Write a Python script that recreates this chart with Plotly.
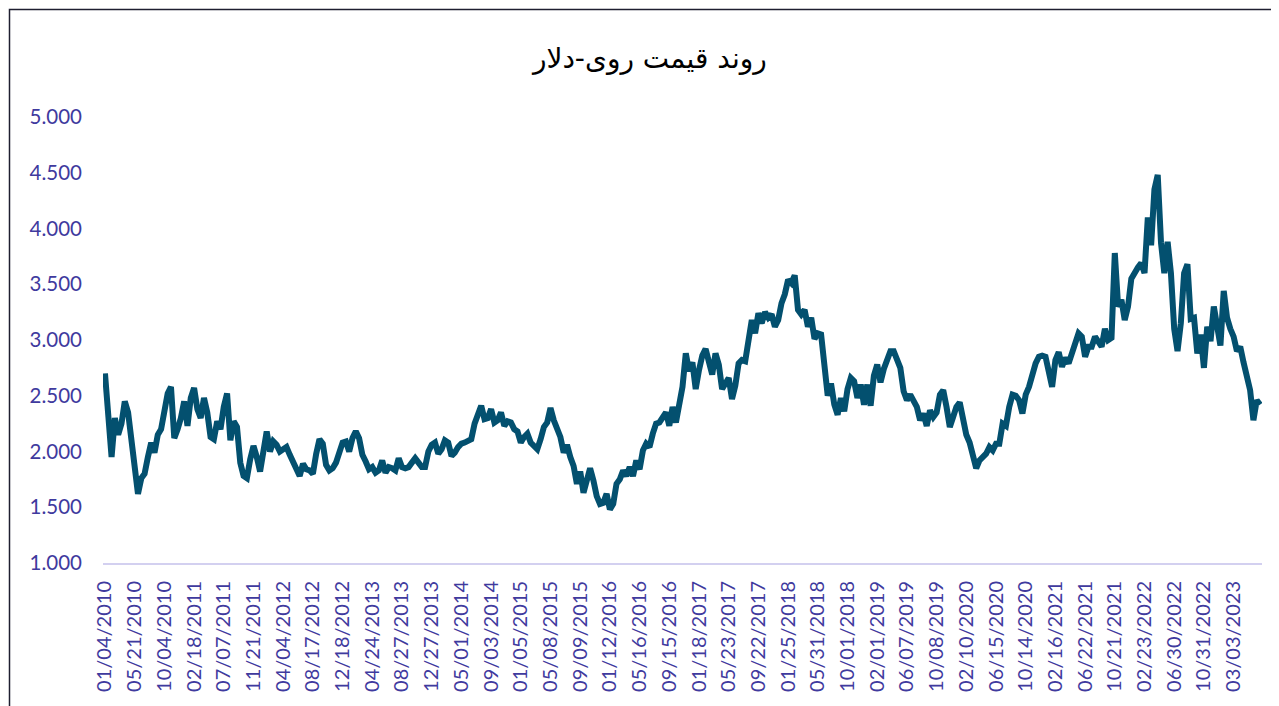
import plotly.graph_objects as go

title_text = "روند قیمت روی-دلار"

# zinc price readings (USD/t), one reading per ~two weeks of trading, left to right
prices = [
    2700, 2250, 1950, 2300, 2150, 2250, 2450, 2350, 2100, 1870,
    1620, 1760, 1800, 1950, 2080, 1990, 2150, 2200, 2330, 2520,
    2580, 2120, 2200, 2300, 2450, 2230, 2480, 2570, 2380, 2300,
    2480, 2350, 2130, 2110, 2270, 2200, 2400, 2520, 2100, 2270,
    2220, 1900, 1780, 1760, 1930, 2050, 1950, 1820, 2000, 2180,
    2000, 2090, 2060, 2000, 2020, 2040, 1970, 1900, 1860, 1780,
    1890, 1840, 1830, 1800, 1980, 2110, 2070, 1880, 1830, 1850,
    1900, 2000, 2080, 2090, 2000, 2120, 2180, 2120, 1970, 1910,
    1840, 1860, 1810, 1830, 1920, 1810, 1860, 1850, 1830, 1940,
    1860, 1850, 1860, 1900, 1940, 1900, 1860, 1860, 2000, 2060,
    2080, 1980, 2020, 2100, 2080, 1960, 1990, 2040, 2070, 2080,
    2100, 2110, 2250, 2330, 2410, 2290, 2300, 2380, 2260, 2280,
    2350, 2230, 2270, 2260, 2200, 2180, 2080, 2130, 2160, 2080,
    2040, 2020, 2110, 2220, 2260, 2390, 2280, 2190, 2130, 1990,
    2060, 1950, 1870, 1710, 1820, 1630, 1720, 1850, 1740, 1600,
    1530, 1540, 1620, 1480, 1530, 1710, 1750, 1830, 1780, 1860,
    1780, 1920, 1840, 2010, 2070, 2040, 2160, 2250, 2260, 2300,
    2350, 2230, 2400, 2260, 2450, 2580, 2880, 2720, 2800, 2560,
    2730, 2860, 2920, 2800, 2690, 2880, 2780, 2560, 2610, 2660,
    2470, 2590, 2790, 2820, 2810, 3000, 3180, 3060, 3240, 3150,
    3250, 3200, 3230, 3120, 3180, 3330, 3410, 3540, 3510, 3580,
    3270, 3230, 3270, 3120, 3200, 3010, 3060, 3050, 2740, 2500,
    2610, 2420, 2330, 2480, 2360, 2560, 2660, 2630, 2480, 2600,
    2420, 2600, 2410, 2680, 2780, 2620, 2740, 2830, 2900, 2900,
    2820, 2750, 2540, 2460, 2510, 2460, 2400, 2280, 2340, 2230,
    2370, 2310, 2350, 2510, 2550, 2400, 2220, 2310, 2400, 2440,
    2300, 2150, 2080, 1980, 1850, 1920, 1950, 1980, 2040, 2010,
    2070, 2070, 2250, 2230, 2400, 2510, 2500, 2460, 2340, 2510,
    2580, 2690, 2790, 2850, 2860, 2850, 2720, 2580, 2820, 2890,
    2760, 2840, 2790, 2880, 3000, 3060, 3030, 2850, 2940, 2940,
    3030, 2970, 2940, 3100, 3000, 3020, 3780, 3300, 3360, 3180,
    3300, 3550, 3610, 3650, 3690, 3600, 4100, 3850, 4350, 4480,
    3870, 3600, 3880, 3600, 3100, 2900, 3150, 3600, 3680, 3190,
    3200, 2880, 3050, 2750, 3120, 2990, 3300, 3100, 2950, 3440,
    3200, 3100, 3030, 2900, 2940, 2800, 2680, 2550, 2280, 2460,
    2420,
]

tick_labels = [
    "01/04/2010", "05/21/2010", "10/04/2010", "02/18/2011", "07/07/2011",
    "11/21/2011", "04/04/2012", "08/17/2012", "12/18/2012", "04/24/2013",
    "08/27/2013", "12/27/2013", "05/01/2014", "09/03/2014", "01/05/2015",
    "05/08/2015", "09/09/2015", "01/12/2016", "05/16/2016", "09/15/2016",
    "01/18/2017", "05/23/2017", "09/22/2017", "01/25/2018", "05/31/2018",
    "10/01/2018", "02/01/2019", "06/07/2019", "10/08/2019", "02/10/2020",
    "06/15/2020", "10/14/2020", "02/16/2021", "06/22/2021", "10/21/2021",
    "02/23/2022", "06/30/2022", "10/31/2022", "03/03/2023",
]

y_ticks = [1000, 1500, 2000, 2500, 3000, 3500, 4000, 4500, 5000]

samples_per_label = 9  # readings between two consecutive date labels

x_idx = list(range(len(prices)))
tick_pos = [k * samples_per_label for k in range(len(tick_labels))]

LINE_COLOR = "#03506F"
TEXT_COLOR = "#3F3A9E"
AXIS_COLOR = "#D3D0F0"

fig = go.Figure()
fig.add_trace(go.Scatter(
    x=x_idx, y=prices, mode="lines",
    line=dict(color=LINE_COLOR, width=6),
    hoverinfo="skip", showlegend=False,
))

# the page body adds an 8px offset, so the figure is 8px smaller than the window
W, H = 1271, 698
L, R, T, B = 95, 17, 109, 143

fig.update_layout(
    width=W, height=H,
    margin=dict(l=L, r=R, t=T, b=B, pad=0),
    paper_bgcolor="white", plot_bgcolor="white",
    separators=",.",
    title=dict(
        text=title_text, x=0.505, xref="container", xanchor="center",
        y=1 - 50 / H, yref="container", yanchor="middle",
        font=dict(family="DejaVu Sans", size=28, color="#000000"),
    ),
    xaxis=dict(
        range=[-0.6, len(prices) - 1 + 0.6],
        tickmode="array", tickvals=tick_pos, ticktext=tick_labels,
        tickangle=-90, ticks="", showgrid=False, zeroline=False,
        showline=True, linecolor=AXIS_COLOR, linewidth=2,
        tickfont=dict(family="Lato", size=20, color=TEXT_COLOR),
        ticklabelstandoff=8,
    ),
    yaxis=dict(
        range=[1000, 5000], tickmode="array", tickvals=y_ticks,
        tickformat=",d", ticks="", showgrid=False, zeroline=False, showline=False,
        tickfont=dict(family="Lato", size=20.5, color=TEXT_COLOR),
        ticklabelstandoff=20,
    ),
)

# outer chart border (left and top edges visible in the frame)
px_w = W - L - R
px_h = H - T - B
def px_to_paper_x(px):
    return (px - L) / px_w
def px_to_paper_y(py):
    return (H - B - py) / px_h

fig.add_shape(
    type="rect", xref="paper", yref="paper",
    x0=px_to_paper_x(1.5), x1=px_to_paper_x(W + 20),
    y0=px_to_paper_y(H + 20), y1=px_to_paper_y(1.5),
    line=dict(color="#1E1E30", width=1.5), fillcolor="rgba(0,0,0,0)", layer="below",
)

fig.write_html("out.html")
